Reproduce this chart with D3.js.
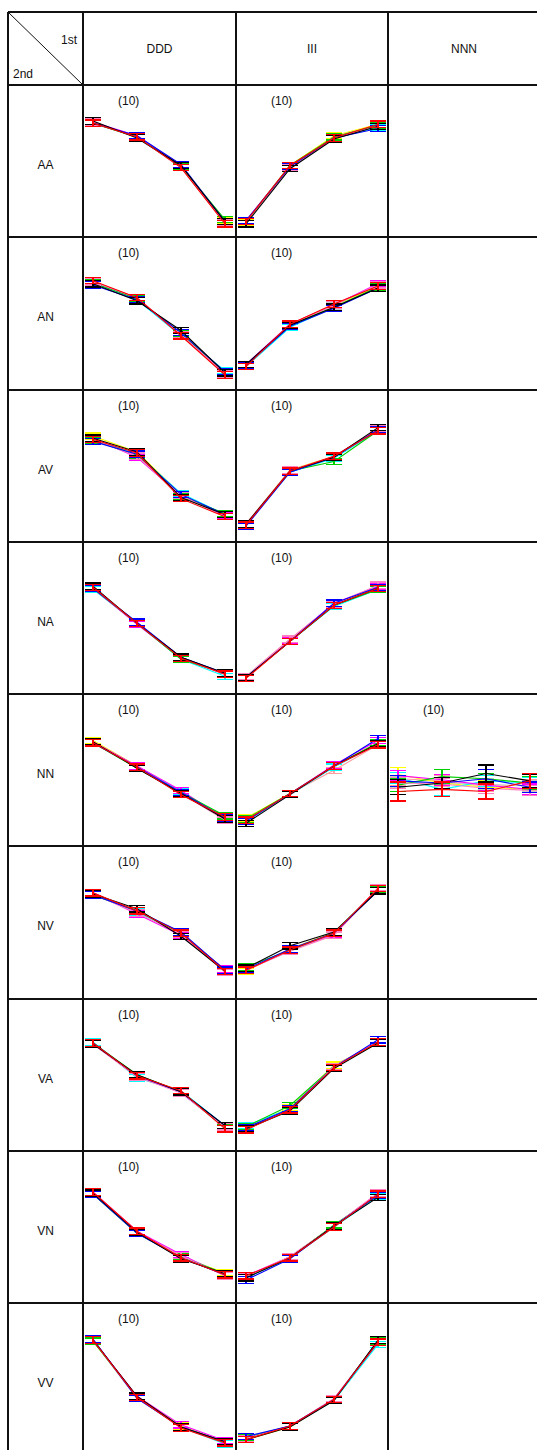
<!DOCTYPE html>
<html>
<head>
<meta charset="utf-8">
<script src="https://cdn.jsdelivr.net/npm/d3@7"></script>
<style>
    body { margin: 0; background: #fff; }
    svg { display: block; font-family: 'Liberation Sans', Arial, sans-serif; }
</style>
</head>
<body>
<svg id="grid" width="537" height="1450"></svg>
<script>
// Column headers (1st) and row headers (2nd)
const firstCats = ['DDD', 'III', 'NNN'];
const secondCats = ['AA', 'AN', 'AV', 'NA', 'NN', 'NV', 'VA', 'VN', 'VV'];
const steps = [0, 1, 2, 3];

// series colours, drawn in this order (red ends up on top)
const seriesColors = ['#ffa0a0', '#c8c8c8', '#ffff00', '#00ffff', '#ff00ff', '#00d000', '#ff80c0', '#0000ff', '#000000', '#ff0000'];

// --- values for each cell: 10 series x 4 steps ---
const AA_DDD = [[98,85,56,4],[99,84,57,5],[99,85,58,6],[98,85,57,5],[99,86,58,4],[98,85,57,7],[99,85,56,4],[98,86,59,5],[100,84,58,5],[98,85,56,3]];
const AA_III = [[6,58,85,96],[5,57,84,95],[4,58,86,97],[5,56,84,94],[6,57,85,96],[5,58,85,96],[5,56,84,95],[6,57,84,93],[3,55,83,95],[5,58,84,97]];
const AN_DDD = [[92,77,42,6],[91,76,42,7],[92,76,43,6],[91,75,41,8],[92,76,42,6],[91,76,43,7],[92,77,42,5],[89,75,44,7],[90,74,46,6],[93,77,41,4]];
const AN_III = [[13,52,70,88],[12,51,69,87],[13,51,70,87],[12,49,68,86],[14,52,70,90],[13,51,68,87],[12,52,70,89],[13,50,67,86],[14,51,68,86],[12,52,71,88]];
const AV_DDD = [[88,72,34,15],[87,73,35,16],[90,75,35,16],[87,73,36,16],[88,70,34,15],[86,72,33,17],[87,71,34,14],[85,73,35,16],[88,75,32,16],[87,74,31,14]];
const AV_III = [[7,57,70,96],[6,57,70,95],[7,58,71,96],[6,56,69,95],[7,57,71,96],[6,57,66,95],[7,58,70,97],[5,56,70,96],[7,57,70,98],[6,57,71,95]];
const NA_DDD = [[90,57,25,9],[91,57,24,10],[90,57,25,9],[89,57,23,7],[90,56,24,9],[90,57,23,10],[91,57,25,9],[90,58,25,10],[92,57,25,10],[91,57,24,9]];
const NA_III = [[7,42,75,92],[6,40,74,90],[6,41,74,91],[7,40,73,89],[6,41,76,92],[6,40,74,89],[7,42,75,93],[6,40,76,91],[6,40,74,90],[5,40,74,90]];
const NN_DDD = [[89,65,41,16],[88,64,41,17],[90,66,42,18],[88,65,42,18],[89,66,43,16],[88,64,41,19],[89,65,40,15],[88,65,41,17],[89,64,40,16],[88,65,39,18]];
const NN_III = [[15,40,62,86],[15,39,66,87],[17,40,66,88],[14,39,65,87],[15,40,67,90],[16,40,66,88],[15,39,66,86],[14,40,66,92],[12,39,66,87],[15,40,66,86]];
const NN_NNN = [[54,52,47,48],[51,50,49,47],[58,50,46,44],[55,44,52,50],[57,53,48,44],[48,56,54,50],[50,49,45,43],[52,50,54,46],[46,50,59,52],[42,44,42,52]];
const NV_DDD = [[90,72,53,16],[89,73,51,17],[88,73,52,17],[89,72,52,16],[90,70,50,18],[88,73,52,17],[89,71,51,15],[88,73,53,17],[89,75,49,16],[90,73,52,16]];
const NV_III = [[17,36,50,94],[18,36,52,93],[16,37,53,92],[18,35,53,93],[17,36,51,94],[20,36,52,93],[17,35,50,95],[18,37,52,92],[19,40,53,92],[17,36,52,94]];
const VA_DDD = [[91,61,46,13],[91,61,45,12],[92,60,46,13],[93,59,47,14],[91,61,45,13],[92,62,46,12],[91,60,45,13],[92,61,46,14],[91,62,46,14],[92,61,47,11]];
const VA_III = [[12,30,70,92],[13,28,69,93],[12,31,71,92],[14,30,70,93],[12,29,70,93],[13,33,70,92],[12,29,70,93],[12,30,69,95],[11,28,68,92],[10,29,69,93]];
const VN_DDD = [[94,57,34,18],[93,58,35,18],[93,57,33,19],[94,57,33,17],[95,58,36,16],[93,56,34,18],[94,57,35,16],[93,56,33,17],[94,57,32,18],[95,58,33,17]];
const VN_III = [[15,33,63,93],[16,32,62,92],[15,34,63,93],[14,33,62,91],[16,34,63,94],[15,33,64,92],[15,34,63,94],[12,32,63,92],[14,33,63,90],[16,33,62,93]];
const VV_DDD = [[99,45,17,3],[99,45,18,3],[98,46,18,3],[99,44,17,1],[99,46,19,4],[98,45,17,3],[99,44,17,3],[100,44,17,3],[99,46,17,3],[99,45,16,2]];
const VV_III = [[6,18,43,97],[6,18,43,98],[5,17,43,97],[6,18,42,95],[6,18,43,98],[7,18,43,98],[6,18,44,97],[8,18,43,97],[5,17,42,99],[5,18,43,97]];

// error half-widths: small everywhere except the NNN cell
const smallErr = [3, 3, 3, 3];
const NN_NNN_err = [[6,5,5,5],[5,5,5,5],[7,5,6,5],[5,6,5,5],[5,5,5,5],[6,7,5,6],[5,5,5,5],[5,5,9,5],[7,5,8,6],[9,7,7,7]];

const cellCount = 10;
const cells = {
    AA: { DDD: AA_DDD, III: AA_III },
    AN: { DDD: AN_DDD, III: AN_III },
    AV: { DDD: AV_DDD, III: AV_III },
    NA: { DDD: NA_DDD, III: NA_III },
    NN: { DDD: NN_DDD, III: NN_III, NNN: NN_NNN },
    NV: { DDD: NV_DDD, III: NV_III },
    VA: { DDD: VA_DDD, III: VA_III },
    VN: { DDD: VN_DDD, III: VN_III },
    VV: { DDD: VV_DDD, III: VV_III },
};
const cellErrs = { 'NN|NNN': NN_NNN_err };

// table geometry
const colX = [8, 83, 236, 388, 540];
const tableTop = 12;
const headTop = 85;
const rowH = 152.25;

const svg = d3.select('#grid');

/* ---------- grid lines ---------- */
const gridG = svg.append('g').attr('stroke', '#111').attr('stroke-width', 1.2).attr('shape-rendering', 'crispEdges');
const lastY = headTop + rowH * secondCats.length;
colX.forEach((x) => {
    gridG.append('line').attr('x1', x).attr('x2', x).attr('y1', tableTop).attr('y2', lastY);
});
const rowLines = [tableTop, headTop].concat(secondCats.map((_, i) => headTop + rowH * (i + 1)));
rowLines.forEach((y) => {
    gridG.append('line').attr('x1', colX[0]).attr('x2', colX[4]).attr('y1', Math.round(y)).attr('y2', Math.round(y));
});
// corner diagonal
svg.append('line')
    .attr('x1', colX[0]).attr('y1', tableTop).attr('x2', colX[1]).attr('y2', headTop)
    .attr('stroke', '#111').attr('stroke-width', 1);

/* ---------- header texts ---------- */
const txt = svg.append('g').attr('font-size', 12).attr('fill', '#111');
txt.append('text').attr('x', 77).attr('y', 44).attr('text-anchor', 'end').text('1st');
txt.append('text').attr('x', 13).attr('y', 78).text('2nd');
firstCats.forEach((c, i) => {
    txt.append('text')
        .attr('x', (colX[i + 1] + colX[i + 2]) / 2)
        .attr('y', (tableTop + headTop) / 2 + 4)
        .attr('text-anchor', 'middle')
        .text(c);
});
secondCats.forEach((r, i) => {
    txt.append('text')
        .attr('x', (colX[0] + colX[1]) / 2)
        .attr('y', headTop + rowH * i + rowH / 2 + 8)
        .attr('text-anchor', 'middle')
        .text(r);
});

/* ---------- small multiples ---------- */
secondCats.forEach((rowKey, ri) => {
    const top = headTop + rowH * ri;
    // per row y scale: 0..100 mapped inside the cell
    const y = d3.scaleLinear().domain([0, 100]).range([top + 142, top + 36]);

    firstCats.forEach((colKey, ci) => {
        const series = cells[rowKey][colKey];
        if (!series) return;
        const left = colX[ci + 1];
        const x = d3.scalePoint().domain(steps).range([left + 10, left + 142]);
        const errs = cellErrs[`${rowKey}|${colKey}`];

        const g = svg.append('g');
        g.append('text')
            .attr('x', left + 35).attr('y', top + 20)
            .attr('font-size', 12).attr('fill', '#111')
            .text(`(${cellCount})`);

        const line = d3.line().x((d, i) => x(steps[i])).y((d) => y(d));

        series.forEach((vals, si) => {
            const color = seriesColors[si];
            const e = errs ? errs[si] : smallErr;
            const sg = g.append('g').attr('stroke', color).attr('fill', 'none');
            sg.append('path').attr('d', line(vals)).attr('stroke-width', 1.1);

            // error bars
            const eb = sg.selectAll('.eb').data(vals).join('g').attr('class', 'eb').attr('shape-rendering', 'crispEdges').attr('stroke-width', 1.2);
            eb.append('line')
                .attr('x1', (d, i) => x(steps[i])).attr('x2', (d, i) => x(steps[i]))
                .attr('y1', (d, i) => y(d - e[i])).attr('y2', (d, i) => y(d + e[i]));
            eb.append('line')
                .attr('x1', (d, i) => x(steps[i]) - 8).attr('x2', (d, i) => x(steps[i]) + 8)
                .attr('y1', (d, i) => y(d - e[i])).attr('y2', (d, i) => y(d - e[i]));
            eb.append('line')
                .attr('x1', (d, i) => x(steps[i]) - 8).attr('x2', (d, i) => x(steps[i]) + 8)
                .attr('y1', (d, i) => y(d + e[i])).attr('y2', (d, i) => y(d + e[i]));
        });
    });
});
</script>
</body>
</html>
